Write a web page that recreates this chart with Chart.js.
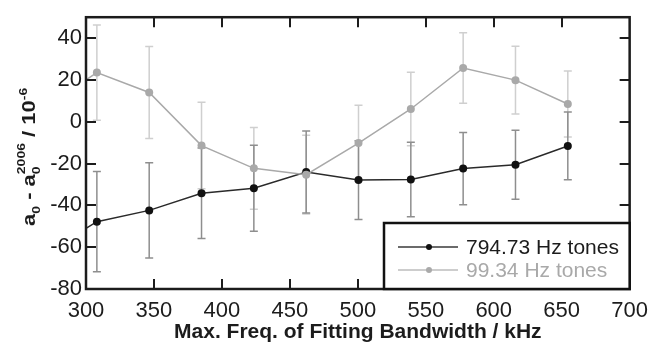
<!DOCTYPE html>
<html>
<head>
<meta charset="utf-8">
<script src="https://cdn.jsdelivr.net/npm/chart.js@4.4.1/dist/chart.umd.min.js"></script>
<style>
  body { margin: 0; background: #fff; }
  #wrap { width: 657px; height: 345px; position: relative; }
</style>
</head>
<body>
<div id="wrap"><canvas id="myChart"></canvas></div>
<script>
// max. frequency of fitting bandwidth (kHz); first point lies left of the axis
const freqs = [269.5, 308, 346.5, 385, 423.5, 462, 500.5, 539, 577.5, 616, 654.5];

// 794.73 Hz tones
const tones794 = [-63, -47.8, -42.4, -34.2, -31.8, -24, -27.9, -27.6, -22.4, -20.6, -11.6];
const err794 = [null, 24, 22.8, 21.6, 20.6, 19.6, 18.8, 17.8, 17.3, 16.5, 16.2];

// 99.34 Hz tones
const tones99 = [7, 23.5, 14, -11.4, -22.3, -25.3, -10.2, 6.1, 25.7, 19.9, 8.5];
const err99 = [null, 22.8, 22, 20.7, 19.5, 18.8, 18.1, 17.6, 16.9, 16.2, 15.8];

const xTicks = [300, 350, 400, 450, 500, 550, 600, 650, 700];
const yTicks = [-80, -60, -40, -20, 0, 20, 40];

const FONT = "'Liberation Sans', Arial, sans-serif";
const DARK = "#1c1c1c";
const GREY = "#a9a9a9";

const toPoints = (xs, ys) => xs.map((x, i) => ({ x: x, y: ys[i] }));

const drawErrorBars = (chart, values, errors, color) => {
  const ctx = chart.ctx;
  const xs = chart.scales.x;
  const ys = chart.scales.y;
  ctx.save();
  ctx.strokeStyle = color;
  ctx.lineWidth = 1.5;
  freqs.forEach((f, i) => {
    if (errors[i] == null) return;
    const px = xs.getPixelForValue(f);
    const top = ys.getPixelForValue(values[i] + errors[i]);
    const bot = ys.getPixelForValue(values[i] - errors[i]);
    ctx.beginPath();
    ctx.moveTo(px, top);
    ctx.lineTo(px, bot);
    ctx.moveTo(px - 4, top);
    ctx.lineTo(px + 4, top);
    ctx.moveTo(px - 4, bot);
    ctx.lineTo(px + 4, bot);
    ctx.stroke();
  });
  ctx.restore();
};

const drawFrame = (chart) => {
  const ctx = chart.ctx;
  const a = chart.chartArea;
  const xs = chart.scales.x;
  const ys = chart.scales.y;
  const len = 10;
  ctx.save();
  ctx.strokeStyle = DARK;
  ctx.lineWidth = 2;
  ctx.beginPath();
  xTicks.forEach((t) => {
    const px = Math.round(xs.getPixelForValue(t));
    if (px <= a.left + 1 || px >= a.right - 1) return;
    ctx.moveTo(px, a.bottom);
    ctx.lineTo(px, a.bottom - len);
    ctx.moveTo(px, a.top);
    ctx.lineTo(px, a.top + len);
  });
  yTicks.forEach((t) => {
    const py = Math.round(ys.getPixelForValue(t));
    if (py >= a.bottom - 1 || py <= a.top + 1) return;
    ctx.moveTo(a.left, py);
    ctx.lineTo(a.left + len, py);
    ctx.moveTo(a.right, py);
    ctx.lineTo(a.right - len, py);
  });
  ctx.stroke();
  ctx.lineWidth = 2.5;
  ctx.strokeRect(a.left, a.top, a.right - a.left, a.bottom - a.top);
  ctx.restore();
};

const drawLegend = (chart) => {
  const ctx = chart.ctx;
  const a = chart.chartArea;
  const box = { x: 384, y: 223, w: a.right - 384, h: a.bottom - 223 };
  const entries = [
    { label: "794.73 Hz tones", line: "#3a3a3a", dot: "#111", text: DARK },
    { label: "99.34 Hz tones", line: "#bdbdbd", dot: "#aaa", text: GREY },
  ];
  ctx.save();
  ctx.fillStyle = "#fff";
  ctx.fillRect(box.x, box.y, box.w, box.h);
  ctx.strokeStyle = "#111";
  ctx.lineWidth = 2.5;
  ctx.strokeRect(box.x, box.y, box.w, box.h);
  ctx.font = "21px " + FONT;
  ctx.textBaseline = "middle";
  entries.forEach((e, i) => {
    const cy = 247 + i * 23;
    ctx.strokeStyle = e.line;
    ctx.lineWidth = 1.5;
    ctx.beginPath();
    ctx.moveTo(398, cy);
    ctx.lineTo(458, cy);
    ctx.stroke();
    ctx.fillStyle = e.dot;
    ctx.beginPath();
    ctx.arc(429, cy, 3, 0, Math.PI * 2);
    ctx.fill();
    ctx.fillStyle = e.text;
    ctx.fillText(e.label, 466, cy + 1);
  });
  ctx.restore();
};

// y title: a0 - a0^2006 / 10^-6, written bottom to top
const drawYTitle = (chart) => {
  const ctx = chart.ctx;
  const big = "bold 22px " + FONT;
  const small = "bold 14px " + FONT;
  ctx.save();
  ctx.translate(35, 226);
  ctx.rotate(-Math.PI / 2);
  ctx.scale(1, 0.8);
  ctx.fillStyle = DARK;
  ctx.textBaseline = "alphabetic";
  let x = 0;
  const put = (txt, font, dy) => {
    ctx.font = font;
    ctx.fillText(txt, x, dy);
    return ctx.measureText(txt).width;
  };
  x += put("a", big, 0);
  x += put("0", small, 6);
  x += put(" - a", big, 0);
  const w0 = put("0", small, 6);
  const w1 = put("2006", small, -12);
  x += Math.max(w0, w1);
  x += put(" / 10", big, 0);
  x += put("-6", small, -10);
  ctx.restore();
};

const customDraw = {
  id: "customDraw",
  beforeDatasetsDraw(chart) {
    const a = chart.chartArea;
    chart.ctx.save();
    chart.ctx.beginPath();
    chart.ctx.rect(a.left, a.top, a.right - a.left, a.bottom - a.top);
    chart.ctx.clip();
    drawErrorBars(chart, tones99, err99, "#cfcfcf");
    drawErrorBars(chart, tones794, err794, "#8e8e8e");
    chart.ctx.restore();
  },
  afterDraw(chart) {
    drawFrame(chart);
    drawLegend(chart);
    drawYTitle(chart);
  },
};

const displayChart = (chartContainer) => {
  new Chart(chartContainer, {
    type: "line",
    data: {
      datasets: [
        {
          label: "794.73 Hz tones",
          data: toPoints(freqs, tones794),
          borderColor: "#2a2a2a",
          backgroundColor: "#111",
          borderWidth: 1.5,
          pointRadius: 4,
          pointBorderWidth: 0,
          order: 1,
        },
        {
          label: "99.34 Hz tones",
          data: toPoints(freqs, tones99),
          borderColor: GREY,
          backgroundColor: GREY,
          borderWidth: 1.5,
          pointRadius: 4,
          pointBorderWidth: 0,
          order: 0,
        },
      ],
    },
    options: {
      responsive: true,
      maintainAspectRatio: false,
      animation: false,
      layout: { padding: { top: 13, right: 22, left: 0, bottom: 0 } },
      plugins: { legend: { display: false }, tooltip: { enabled: false } },
      scales: {
        x: {
          type: "linear",
          min: 300,
          max: 700,
          afterBuildTicks: (scale) => {
            scale.ticks = xTicks.map((v) => ({ value: v }));
          },
          afterFit: (scale) => {
            scale.height = 56;
          },
          grid: { display: false, drawTicks: false },
          border: { display: false },
          ticks: {
            padding: 9,
            color: DARK,
            font: { family: FONT, size: 22 },
            maxRotation: 0,
          },
          title: {
            display: true,
            text: "Max. Freq. of Fitting Bandwidth / kHz",
            color: DARK,
            font: { family: FONT, size: 21, weight: "bold" },
            padding: { top: 0, bottom: 0 },
          },
        },
        y: {
          type: "linear",
          min: -80,
          max: 50,
          afterBuildTicks: (scale) => {
            scale.ticks = yTicks.map((v) => ({ value: v }));
          },
          afterFit: (scale) => {
            scale.width = 86;
          },
          grid: { display: false, drawTicks: false },
          border: { display: false },
          ticks: {
            padding: 4,
            color: DARK,
            font: { family: FONT, size: 22 },
          },
        },
      },
    },
    plugins: [customDraw],
  });
};

displayChart(document.getElementById("myChart"));
</script>
</body>
</html>
